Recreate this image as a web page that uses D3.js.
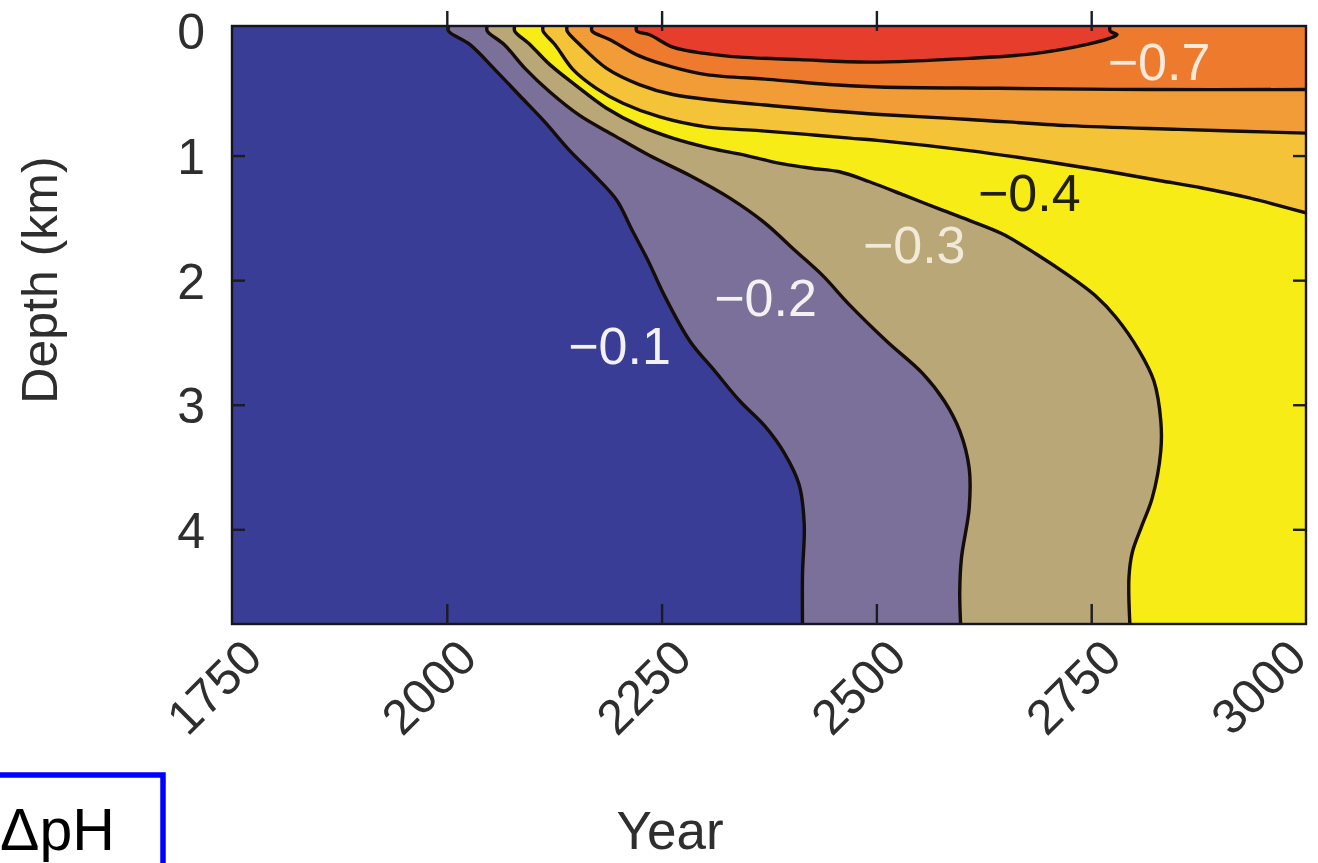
<!DOCTYPE html>
<html>
<head>
<meta charset="utf-8">
<script src="https://cdn.jsdelivr.net/npm/d3@7"></script>
<style>
  html, body { margin: 0; padding: 0; background: #ffffff; overflow: hidden; }
  svg { display: block; font-family: "Liberation Sans", Arial, Helvetica, sans-serif; }
</style>
</head>
<body>
<svg id="chart" width="1318" height="863"></svg>
<script>
// Axis ticks
const yearTicks = [1750, 2000, 2250, 2500, 2750, 3000];
const depthTicks = [0, 1, 2, 3, 4];

// ΔpH contour lines, points as [year, depth km]
const contourM01 = [[2002,0],[2027,0.11],[2056,0.31],[2085,0.52],[2114,0.73],[2143,0.96],[2172,1.16],[2198,1.36],[2215,1.59],[2234,1.84],[2253,2.12],[2283,2.49],[2312,2.73],[2341,2.97],[2370,3.17],[2393,3.39],[2410,3.64],[2416,3.96],[2414,4.36],[2414,4.76]];
const contourM02 = [[2047,0],[2067,0.11],[2091,0.30],[2120,0.49],[2155,0.68],[2195,0.84],[2236,1.00],[2283,1.16],[2329,1.34],[2370,1.54],[2405,1.76],[2437,1.96],[2469,2.20],[2512,2.49],[2554,2.75],[2579,2.97],[2597,3.21],[2608,3.51],[2608,3.83],[2599,4.23],[2597,4.50],[2598,4.76]];
const contourM03 = [[2079,0],[2097,0.11],[2120,0.27],[2149,0.43],[2186,0.62],[2224,0.76],[2263,0.86],[2306,0.94],[2349,1.00],[2379,1.05],[2422,1.10],[2457,1.13],[2492,1.21],[2533,1.32],[2570,1.42],[2608,1.52],[2647,1.63],[2686,1.79],[2721,1.95],[2754,2.12],[2779,2.30],[2806,2.57],[2823,2.81],[2831,3.13],[2831,3.37],[2821,3.75],[2809,3.97],[2798,4.18],[2794,4.38],[2795,4.76]];
const contourM04 = [[2112,0],[2126,0.11],[2147,0.31],[2174,0.46],[2205,0.58],[2248,0.69],[2302,0.77],[2364,0.80],[2419,0.83],[2469,0.86],[2504,0.88],[2608,0.96],[2690,1.04],[2763,1.12],[2829,1.20],[2879,1.26],[2934,1.34],[3000,1.46]];
const contourM05 = [[2140,0],[2155,0.11],[2186,0.30],[2224,0.43],[2263,0.51],[2317,0.56],[2379,0.60],[2445,0.64],[2504,0.67],[2608,0.71],[2724,0.76],[2852,0.79],[3000,0.82]];
const contourM06 = [[2169,0],[2190,0.07],[2224,0.20],[2263,0.29],[2302,0.35],[2379,0.39],[2445,0.43],[2504,0.45],[2643,0.46],[2817,0.47],[3000,0.47]];
const contourM07 = [[2221,0],[2236,0.03],[2263,0.13],[2300,0.18],[2341,0.21],[2410,0.23],[2492,0.25],[2608,0.22],[2686,0.18],[2744,0.11],[2771,0.06],[2780,0.03],[2772,0.0]];

// Contour levels with the band colour on their more acidic side
const levels = [-0.1, -0.2, -0.3, -0.4, -0.5, -0.6, -0.7];
const contours = [contourM01, contourM02, contourM03, contourM04, contourM05, contourM06, contourM07];
const bandColors = ["#7a7099", "#b9a778", "#f8ec16", "#f5c338", "#f29c37", "#ee7a2e", "#e73d2c"];
const baseColor = "#3a3d96";

// Inline contour labels
const labelText = ["\u22120.1", "\u22120.2", "\u22120.3", "\u22120.4", "\u22120.7"];
const labelYear = [2201, 2371, 2544, 2678, 2829];
const labelDepth = [2.53, 2.14, 1.72, 1.30, 0.25];
const labelColor = ["#f3f1f4", "#f3f1f2", "#f1ead8", "#23200a", "#fbeadb"];

const svg = d3.select("#chart");
const x = d3.scaleLinear().domain([1750, 3000]).range([232, 1306]);
const y = d3.scaleLinear().domain([-0.04, 4.76]).range([26, 624]);
const [x0, x1] = x.range();
const [y0, y1] = y.range();
const depthTop = y.domain()[0], depthBottom = y.domain()[1], yearRight = x.domain()[1];

svg.append("defs").append("clipPath").attr("id", "plotClip")
  .append("rect").attr("x", x0).attr("y", y0).attr("width", x1 - x0).attr("height", y1 - y0);

const plot = svg.append("g").attr("clip-path", "url(#plotClip)");
plot.append("rect").attr("x", x0).attr("y", y0).attr("width", x1 - x0).attr("height", y1 - y0)
  .attr("fill", baseColor);

const smooth = d3.line().x(d => x(d[0])).y(d => y(d[1])).curve(d3.curveCatmullRom.alpha(0.5));

// each contour starts on the sea surface; extend it to the frame top
function withSurface(pts) {
  const out = [[pts[0][0], depthTop]].concat(pts);
  const last = pts[pts.length - 1];
  if (last[1] <= 0.001) out.push([last[0], depthTop]);
  return out;
}

contours.forEach((pts, i) => {
  const line = withSurface(pts);
  const last = pts[pts.length - 1];
  let tail;
  if (last[1] <= 0.001) tail = "Z";                              // closed on the surface
  else if (last[1] >= depthBottom - 0.001) tail = `L${x(yearRight)},${y(depthBottom)}L${x(yearRight)},${y(depthTop)}Z`;
  else tail = `L${x(yearRight)},${y(depthTop)}Z`;              // exits on the right edge
  plot.append("path").attr("d", smooth(line) + tail).attr("fill", bandColors[i]).attr("stroke", "none");
});

contours.forEach((pts) => {
  plot.append("path").attr("d", smooth(withSurface(pts)))
    .attr("fill", "none").attr("stroke", "#140d08").attr("stroke-width", 3.4)
    .attr("stroke-linejoin", "round");
});

// contour labels
labelText.forEach((t, i) => {
  svg.append("text")
    .attr("x", x(labelYear[i])).attr("y", y(labelDepth[i]))
    .attr("text-anchor", "middle").attr("dominant-baseline", "central")
    .attr("font-size", 52).attr("fill", labelColor[i]).text(t);
});

// frame
svg.append("rect").attr("x", x0).attr("y", y0).attr("width", x1 - x0).attr("height", y1 - y0)
  .attr("fill", "none").attr("stroke", "#15151f").attr("stroke-width", 2.4);

const tickColor = "#1b1b22";
// bottom axis: inward ticks, rotated labels drawn separately
svg.append("g").attr("transform", `translate(0,${y1})`)
  .call(d3.axisBottom(x).tickValues(yearTicks).tickSize(-20).tickSizeOuter(0).tickFormat(""));
// top axis ticks cross the frame
svg.append("g").attr("transform", `translate(0,${y0 + 5})`)
  .call(d3.axisTop(x).tickValues(yearTicks).tickSize(20).tickSizeOuter(0).tickFormat(""));
// left and right
const gL = svg.append("g").attr("transform", `translate(${x0},0)`)
  .call(d3.axisLeft(y).tickValues(depthTicks).tickSize(-13).tickSizeOuter(0).tickPadding(27).tickFormat(d3.format("d")));
svg.append("g").attr("transform", `translate(${x1},0)`)
  .call(d3.axisRight(y).tickValues(depthTicks).tickSize(-13).tickSizeOuter(0).tickFormat(""));

svg.selectAll(".domain").remove();
svg.selectAll(".tick line").attr("stroke", tickColor).attr("stroke-width", 2.4);
svg.selectAll(".tick").filter(d => d === 1750 || d === 3000 || d === 0).select("line").remove();
gL.selectAll("text").attr("font-size", 50).attr("fill", "#2e2e2e")
  .attr("font-family", "'Liberation Sans', Arial, sans-serif").attr("dy", "0.36em");

// rotated year labels; the last one is kept inside the page
const yearLabels = svg.append("g").selectAll("text").data(yearTicks).join("text")
  .attr("transform", d => `translate(${x(d) + 20},${y1 + 24}) rotate(-45)`)
  .attr("text-anchor", "end").attr("dy", "0.36em")
  .attr("font-size", 49).attr("fill", "#2e2e2e").text(d => d);
yearLabels.each(function (d) {
  const box = this.getBoundingClientRect();
  const over = box.right - 1316;
  if (over > 0) d3.select(this).attr("transform", `translate(${x(d) + 20 - over},${y1 + 24}) rotate(-45)`);
});

// axis titles
svg.append("text").attr("transform", `translate(40,280) rotate(-90)`)
  .attr("text-anchor", "middle").attr("dominant-baseline", "central")
  .attr("font-size", 50).attr("fill", "#2e2e2e").text("Depth (km)");
svg.append("text").attr("x", 670).attr("y", 849).attr("text-anchor", "middle")
  .attr("font-size", 53).attr("fill", "#2e2e2e").text("Year");

// quantity box
svg.append("rect").attr("x", -20).attr("y", 775).attr("width", 183).attr("height", 120)
  .attr("fill", "none").attr("stroke", "#0000ff").attr("stroke-width", 5.5);
svg.append("text").attr("x", 0).attr("y", 850).attr("font-size", 59).attr("fill", "#000")
  .text("\u0394pH");
</script>
</body>
</html>
